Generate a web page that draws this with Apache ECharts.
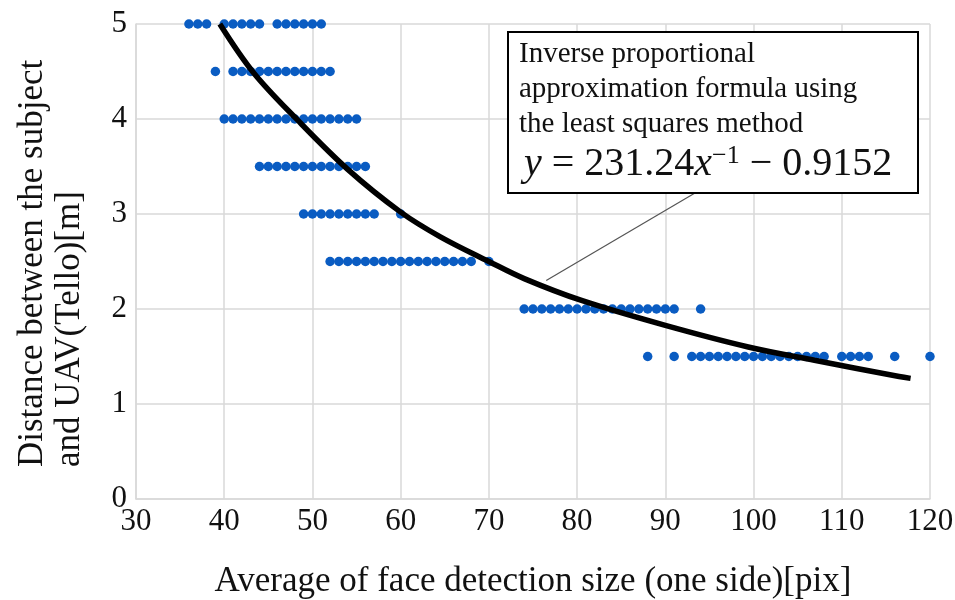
<!DOCTYPE html>
<html>
<head>
<meta charset="utf-8">
<script src="https://cdn.jsdelivr.net/npm/echarts@6/dist/echarts.min.js"></script>
<style>html,body{margin:0;padding:0;background:#fff}#c{width:955px;height:600px}</style>
</head>
<body>
<div id="c"></div>
<script>
// Measured face sizes (pix) for each distance (m)
const distances = [5, 4.5, 4, 3.5, 3, 2.5, 2, 1.5];
const sizes5   = [36,37,38,40,41,42,43,44,46,47,48,49,50,51];
const sizes4_5 = [39,41,42,43,44,45,46,47,48,49,50,51,52];
const sizes4   = [40,41,42,43,44,45,46,47,48,49,50,51,52,53,54,55];
const sizes3_5 = [44,45,46,47,48,49,50,51,52,53,54,55,56];
const sizes3   = [49,50,51,52,53,54,55,56,57,60];
const sizes2_5 = [52,53,54,55,56,57,58,59,60,61,62,63,64,65,66,67,68,70];
const sizes2   = [74,75,76,77,78,79,80,81,82,83,84,85,86,87,88,89,90,91,94];
const sizes1_5 = [88,91,93,94,95,96,97,98,99,100,101,102,103,104,105,106,107,108,110,111,112,113,116,120];
const sizeRows = [sizes5, sizes4_5, sizes4, sizes3_5, sizes3, sizes2_5, sizes2, sizes1_5];

// Fitted curve
const curveX = [39.5, 43.3, 48.3, 54.0, 60.0, 64.5, 70.0, 74.0, 80.5, 89.9, 99.4, 106.9, 116.5, 117.8];
const curveY = [5.0, 4.49, 3.99, 3.47, 3.02, 2.76, 2.50, 2.32, 2.09, 1.83, 1.60, 1.46, 1.29, 1.27];
const leaderPoint = [76.5, 2.3];

const xTicks = [30,40,50,60,70,80,90,100,110,120];
const yTicks = [0,1,2,3,4,5];

const scatterData = [];
sizeRows.forEach((row, i) => row.forEach(v => scatterData.push([v, distances[i]])));
const curveData = curveX.map((x, i) => [x, curveY[i]]);

const FONT = '"Liberation Serif","Times New Roman",serif';
const grid = '#d9d9d9';
const chart = echarts.init(document.getElementById('c'));
chart.setOption({
  animation: false,
  backgroundColor: '#fff',
  grid: {left: 136, right: 25, top: 24, bottom: 101, containLabel: false, outerBoundsMode: 'none'},
  xAxis: {
    type: 'value', min: xTicks[0], max: xTicks[xTicks.length-1], interval: 10,
    name: 'Average of face detection size (one side)[pix]',
    nameLocation: 'middle', nameGap: 65,
    nameTextStyle: {fontFamily: FONT, fontSize: 35, color: '#111'},
    axisLine: {show: true, lineStyle: {color: grid, width: 1.5}},
    axisTick: {show: false},
    axisLabel: {fontFamily: FONT, fontSize: 31, color: '#111', margin: 7},
    splitLine: {show: true, lineStyle: {color: grid, width: 1.5}}
  },
  yAxis: {
    type: 'value', min: yTicks[0], max: yTicks[yTicks.length-1], interval: 1,
    axisLine: {show: true, lineStyle: {color: grid, width: 1.5}},
    axisTick: {show: false},
    axisLabel: {fontFamily: FONT, fontSize: 31, color: '#111', margin: 9},
    splitLine: {show: true, lineStyle: {color: grid, width: 1.5}}
  },
  series: [
    {
      type: 'scatter', data: scatterData, symbolSize: 9.5,
      itemStyle: {color: '#0a5cc2', opacity: 1}, z: 2
    },
    {
      type: 'line', data: curveData, smooth: 0.35, showSymbol: false, symbol: 'none',
      lineStyle: {color: '#000', width: 5.5}, z: 3
    }
  ]
});

const p = chart.convertToPixel({gridIndex: 0}, leaderPoint);
chart.setOption({
  graphic: [
    {type: 'text', z: 12, x: 51, y: 467, rotation: Math.PI / 2,
     style: {text: 'Distance between the subject\nand UAV(Tello)[m]',
             font: '35px ' + FONT, fill: '#111', lineHeight: 37,
             align: 'left', verticalAlign: 'middle'}},
    {type: 'line', z: 10, shape: {x1: p[0], y1: p[1], x2: 695, y2: 193},
     style: {stroke: '#555', lineWidth: 1.2}},
    {type: 'rect', z: 11, shape: {x: 508, y: 32, width: 410, height: 161},
     style: {fill: '#fff', stroke: '#000', lineWidth: 2}},
    {type: 'text', z: 12, left: 519, top: 37,
     style: {text: 'Inverse proportional\napproximation formula using\nthe least squares method',
             font: '29px ' + FONT, fill: '#111', lineHeight: 35}},
    {type: 'text', z: 12, left: 524, top: 143,
     style: {
       text: '{i|y} = 231.24{i|x}{s|−1} − 0.9152',
       font: '40px ' + FONT, fill: '#111',
       rich: {
         i: {fontFamily: FONT, fontStyle: 'italic', fontSize: 40, fill: '#111'},
         s: {fontFamily: FONT, fontSize: 26, verticalAlign: 'top', padding: [0,0,16,0], fill: '#111'}
       }
     }}
  ]
});
</script>
</body>
</html>
